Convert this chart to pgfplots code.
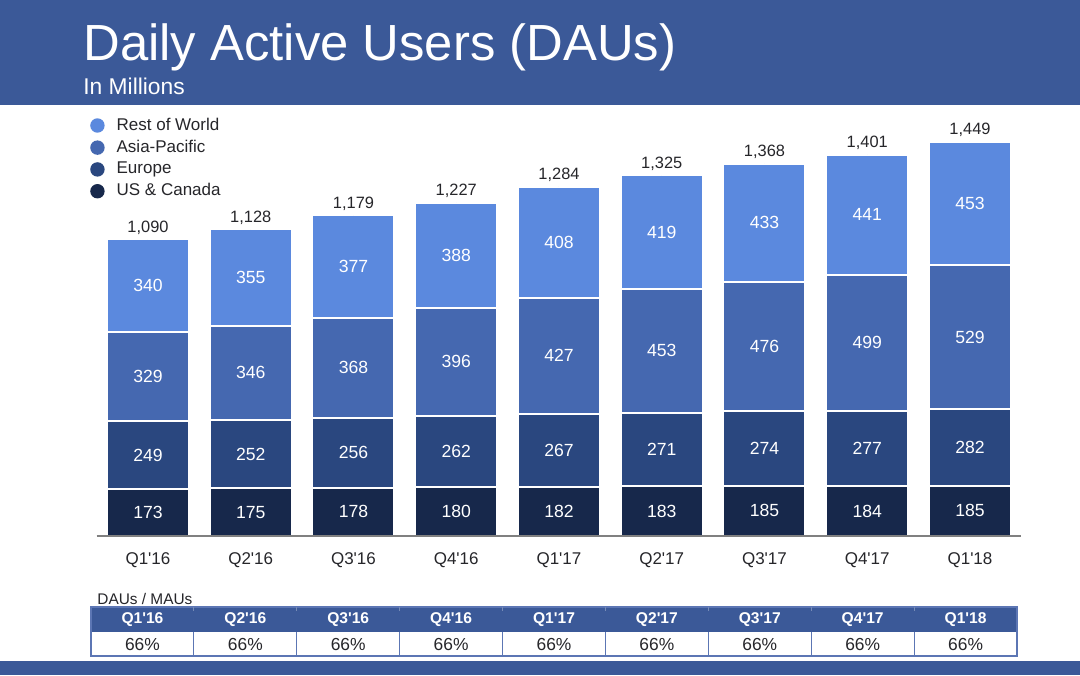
\documentclass[border=0pt]{standalone}
\usepackage{pgfplots}
\pgfplotsset{compat=1.18}
\usepackage{pgfplotstable}
\usepackage{fontspec}
\setmainfont{Liberation Sans}[Ligatures=TeXOff]

\definecolor{fbblue}{RGB}{59,89,152}
\definecolor{cRow}{RGB}{91,137,222}
\definecolor{cAp}{RGB}{69,104,176}
\definecolor{cEu}{RGB}{42,71,127}
\definecolor{cUs}{RGB}{23,40,75}
\definecolor{txt}{RGB}{38,38,42}
\definecolor{gridblue}{RGB}{92,118,180}

% DAUs in millions, per region, and the reported total
\pgfplotstableread{
x us  eu  ap  row tot
0 173 249 329 340 1090
1 175 252 346 355 1128
2 178 256 368 377 1179
3 180 262 396 388 1227
4 182 267 427 408 1284
5 183 271 453 419 1325
6 185 274 476 433 1368
7 184 277 499 441 1401
8 185 282 529 453 1449
}\dau

\pgfplotsset{dauaxis/.style={
  at={(48.3pt,-268pt)}, anchor=south west,
  width=462.375pt, height=215pt, scale only axis,
  xmin=-0.5, xmax=8.5, ymin=0, ymax=1581, clip=false,
  /pgf/number format/1000 sep={,},
  /pgf/number format/assume math mode=true,
}}

\begin{document}
\begin{tikzpicture}
\begin{scope}[x=0.5pt,y=-0.5pt]
\fill[white] (0,0) rectangle (1080,675);
\fill[fbblue] (0,0) rectangle (1080,105);
\fill[fbblue] (0,661) rectangle (1080,675);
\node[anchor=base west, inner sep=0, text=white, font=\fontsize{25.4}{27}\selectfont] at (83,60) {Daily Active Users (DAUs)};
\node[anchor=base west, inner sep=0, text=white, font=\fontsize{11.4}{13}\selectfont] at (83,94) {In Millions};
\node[anchor=base west, inner sep=0, text=txt, font=\fontsize{7.7}{9}\selectfont] at (97,604) {DAUs / MAUs};
\fill[fbblue] (91,607) rectangle (1017,632);
\draw[gridblue, line width=0.6pt] (91,607) rectangle (1017,656);
\foreach \q [count=\i from 0] in {Q1'16,Q2'16,Q3'16,Q4'16,Q1'17,Q2'17,Q3'17,Q4'17,Q1'18} {
  \pgfmathsetmacro\xl{91+\i*102.889}
  \pgfmathsetmacro\xc{\xl+51.44}
  \node[text=white, font=\bfseries\fontsize{7.8}{9}\selectfont, inner sep=0] at (\xc,619.5) {\q};
  \node[text=txt, font=\fontsize{8.7}{10}\selectfont, inner sep=0] at (\xc,644) {66\%};
  \ifnum\i>0
    \draw[gridblue, line width=0.6pt] (\xl,632) -- (\xl,656);
    \draw[fbblue!70!white, line width=0.4pt] (\xl,607) -- (\xl,611);
  \fi
}
\end{scope}
\useasboundingbox (0pt,0pt) rectangle (540pt,-337.5pt);

\begin{axis}[dauaxis,
  ybar stacked, bar width=41pt, axis on top,
  axis y line=none, axis x line*=bottom,
  x axis line style={draw=black!50, line width=1pt, -},
  ytick=\empty,
  xtick={0,...,8}, xtick style={draw=none},
  xticklabels={Q1'16,Q2'16,Q3'16,Q4'16,Q1'17,Q2'17,Q3'17,Q4'17,Q1'18},
  xticklabel style={font=\fontsize{8.5}{10}\selectfont, text=txt, yshift=-5pt},
  reverse legend,
  legend cell align=left,
  legend style={draw=none, fill=none, at={(-0.0138,0.992)}, anchor=north west,
    font=\fontsize{8.5}{9}\selectfont, text=txt, row sep=-0.6pt},
  legend image code/.code={\fill[#1,draw=none] (0pt,0pt) circle (3.6pt);
    \path[draw=none,fill=none] (-3.6pt,-1pt) rectangle (7.6pt,1pt);},
]
\addplot[fill=cUs, draw=white, line width=1pt] table[x=x, y=us]{\dau};
\addlegendentry{US \& Canada}
\addplot[fill=cEu, draw=white, line width=1pt] table[x=x, y=eu]{\dau};
\addlegendentry{Europe}
\addplot[fill=cAp, draw=white, line width=1pt] table[x=x, y=ap]{\dau};
\addlegendentry{Asia-Pacific}
\addplot[fill=cRow, draw=white, line width=1pt] table[x=x, y=row]{\dau};
\addlegendentry{Rest of World}
\end{axis}

\begin{axis}[dauaxis, hide axis,
  nodes near coords, point meta=explicit,
  every node near coord/.append style={font=\fontsize{8.8}{10}\selectfont, text=white, anchor=center},
]
\addplot[draw=none, mark=*, mark size=0pt, mark options={draw=none,fill=none}]
  table[x=x, y expr=\thisrow{us}/2, meta=us]{\dau};
\addplot[draw=none, mark=*, mark size=0pt, mark options={draw=none,fill=none}]
  table[x=x, y expr=\thisrow{us}+\thisrow{eu}/2, meta=eu]{\dau};
\addplot[draw=none, mark=*, mark size=0pt, mark options={draw=none,fill=none}]
  table[x=x, y expr=\thisrow{us}+\thisrow{eu}+\thisrow{ap}/2, meta=ap]{\dau};
\addplot[draw=none, mark=*, mark size=0pt, mark options={draw=none,fill=none}]
  table[x=x, y expr=\thisrow{us}+\thisrow{eu}+\thisrow{ap}+\thisrow{row}/2, meta=row]{\dau};
\addplot[draw=none, mark=*, mark size=0pt, mark options={draw=none,fill=none},
  every node near coord/.append style={anchor=south, text=txt, font=\fontsize{8.2}{9}\selectfont, yshift=-1pt}]
  table[x=x, y=tot, meta=tot]{\dau};
\end{axis}
\end{tikzpicture}
\end{document}
